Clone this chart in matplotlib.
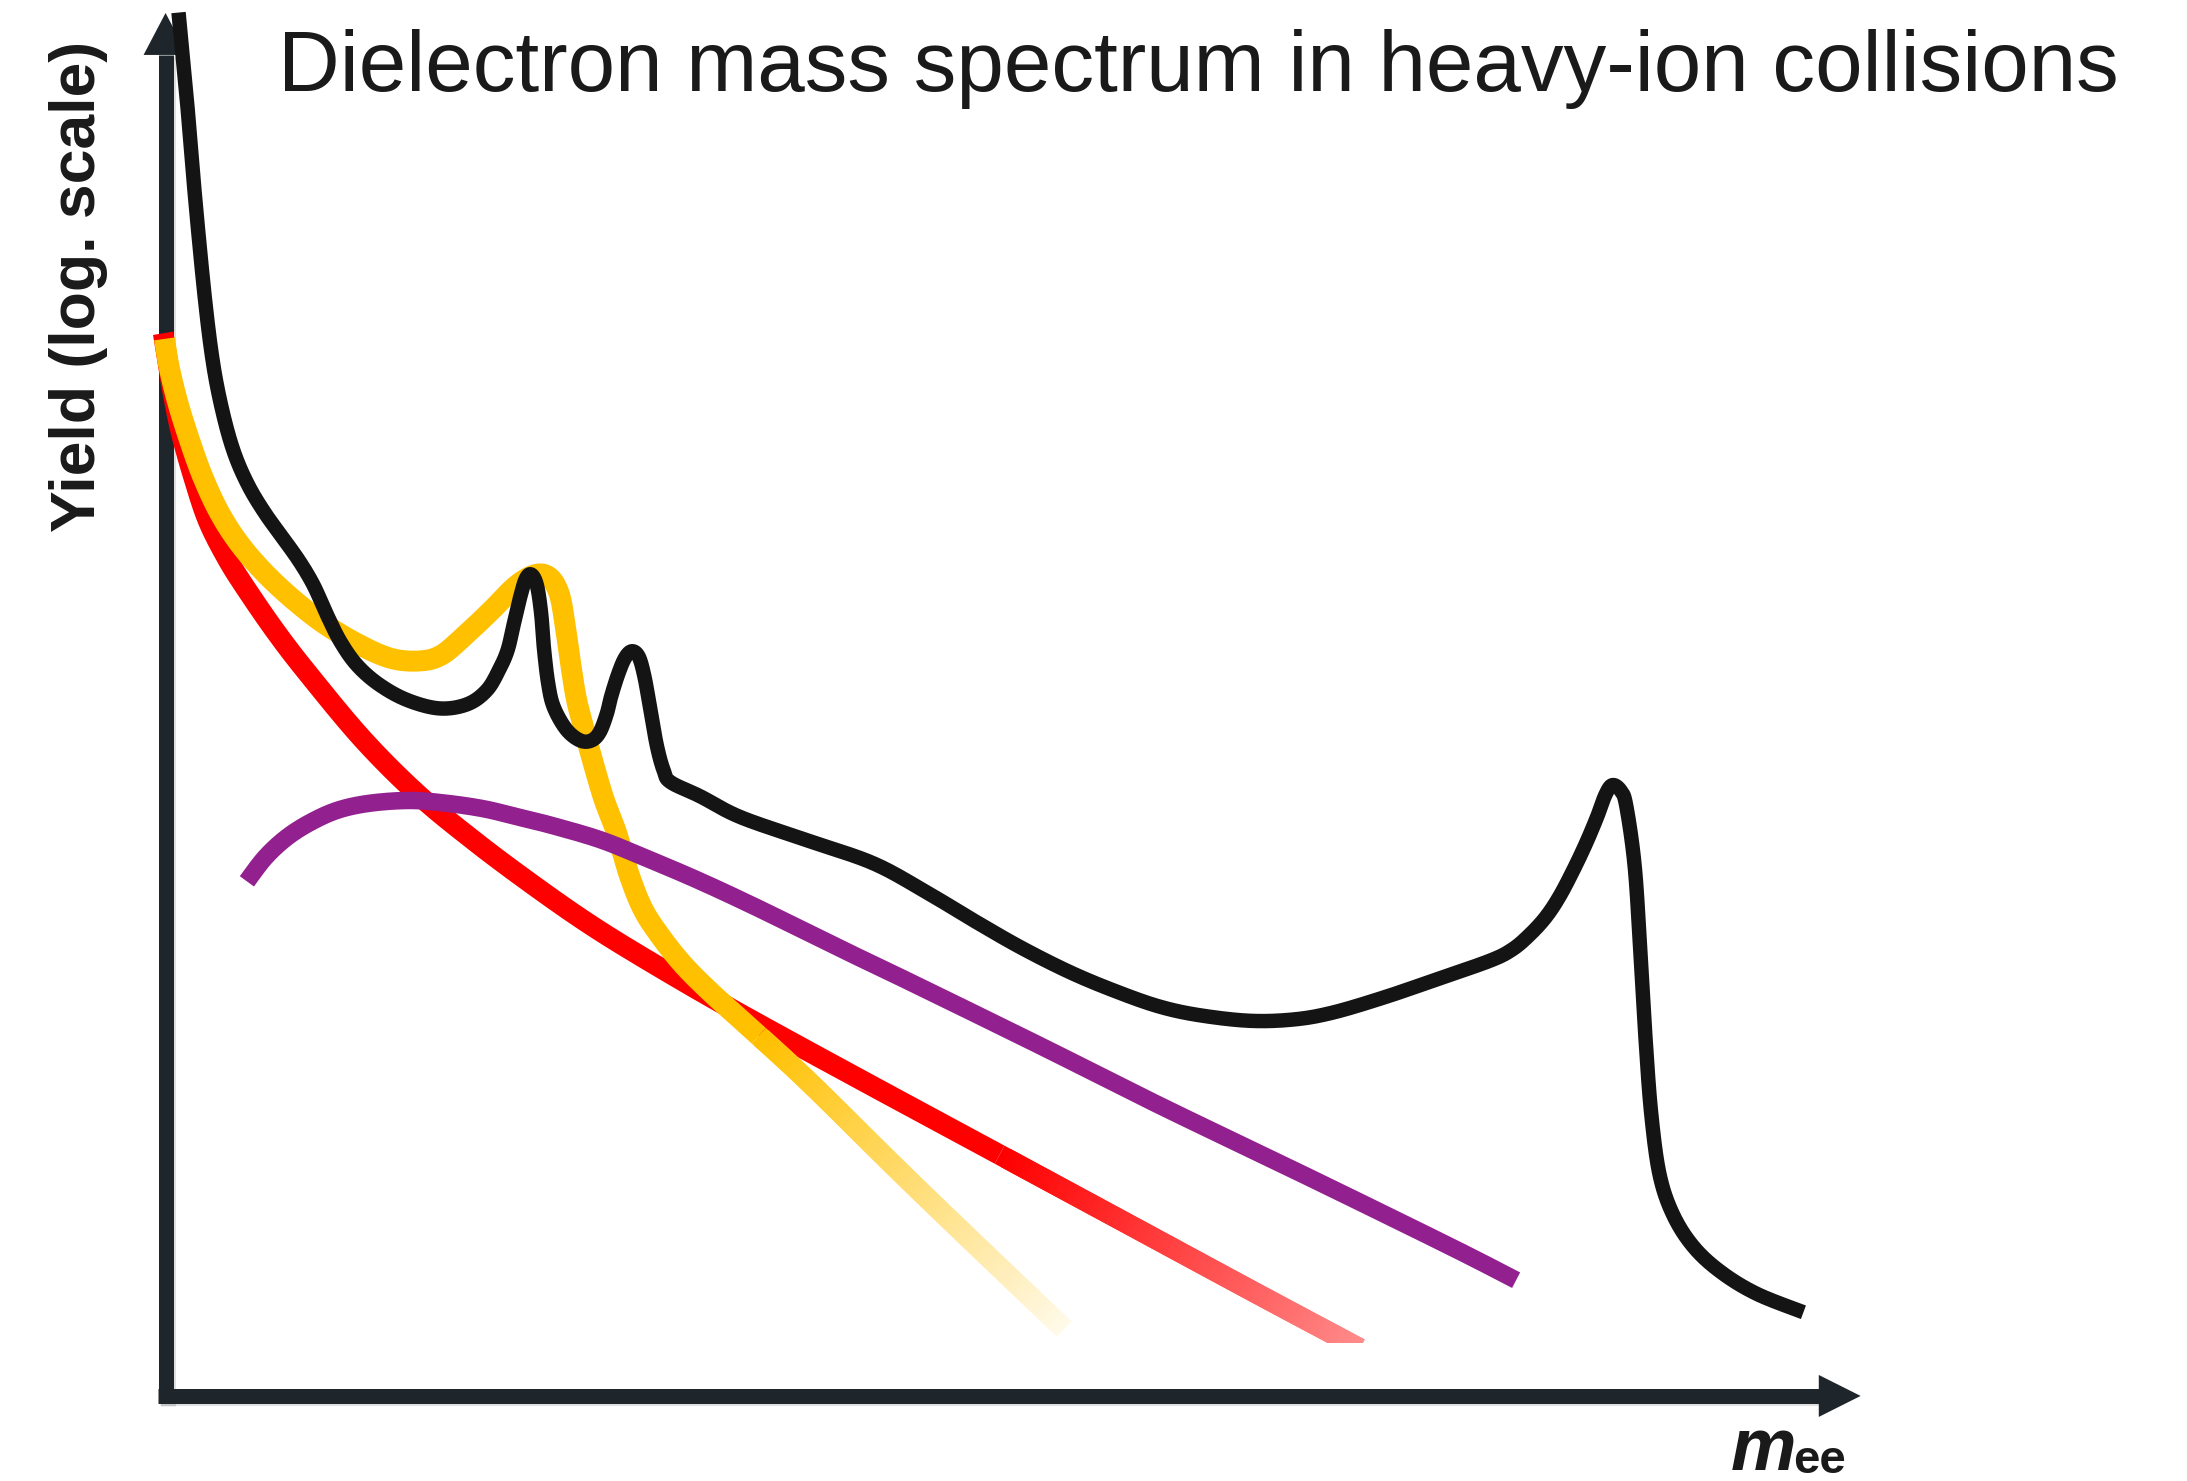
import numpy as np
import matplotlib
matplotlib.use("Agg")
import matplotlib.pyplot as plt
from matplotlib.collections import LineCollection
from matplotlib.patches import Polygon, Rectangle
import matplotlib.patheffects as pe

plt.rcParams['font.family'] = ['Liberation Sans', 'DejaVu Sans']

### Schematic curves: invariant mass (arbitrary units) vs log of yield (arbitrary units) ###

# total measured spectrum (black)
total_m = [10, 16, 22, 29, 35, 42, 50, 60, 72, 85, 97, 107, 116, 126, 138, 154, 174, 197,
           217, 231, 240, 246, 250, 255, 259, 263, 267, 270, 272, 275, 279, 288, 298, 306,
           312, 317, 320, 325, 330, 335, 340, 344, 348, 353, 358, 363, 384, 413, 462, 508,
           545, 580, 615, 651, 685, 714, 742, 778, 810, 838, 875, 910, 950, 966, 978, 990,
           1000, 1010, 1019, 1027, 1033, 1038, 1044, 1048, 1054, 1058, 1062, 1066, 1072,
           1082, 1097, 1117, 1142, 1175]
total_ly = [991, 928, 857, 785, 738, 703, 675, 652, 632, 614, 597, 580, 560, 540, 523, 509,
            498, 492, 495, 505, 520, 534, 551, 572, 585, 588, 580, 560, 535, 510, 493, 477,
            469, 469, 475, 488, 500, 516, 528, 533, 529, 515, 493, 465, 447, 439, 429, 414,
            397, 381, 361, 340, 320, 302, 288, 278, 272, 268, 269, 274, 285, 297, 311, 319,
            329, 342, 357, 376, 395, 414, 430, 437, 433, 422, 379, 319, 252, 200, 157, 128,
            105, 87, 72, 59]

# hadronic cocktail (yellow)
cocktail_m = [0, 3, 9, 17, 27, 39, 53, 70, 90, 114, 139, 162, 182, 198, 215, 234, 252, 266,
              276, 283, 287, 291, 295, 300, 307, 315, 324, 333, 343, 356, 372, 392, 413, 460,
              527, 582, 645]
cocktail_ly = [757, 738, 713, 687, 659, 633, 611, 591, 572, 553, 538, 528, 526, 530, 544, 562,
               580, 588, 586, 574, 553, 525, 500, 480, 454, 427, 403, 373, 348, 328, 308, 288,
               269, 226, 160, 107, 47]

# red curve
red_m = [-1, 2, 6, 12, 21, 31, 44, 57, 79, 102, 142, 182, 222, 262, 302, 342, 402, 482, 582,
         682, 782, 857]
red_ly = [761, 742, 718, 689, 657, 627, 601, 580, 548, 518, 470, 430, 397, 367, 339, 314, 279,
          235, 181, 127, 73, 33]

# purple curve
purple_m = [59, 72, 87, 104, 124, 147, 176, 202, 229, 254, 278, 312, 342, 382, 425, 482, 532,
            628, 714, 822, 922, 969]
purple_ly = [368, 385, 399, 410, 419, 424, 426, 424, 420, 414, 408, 398, 386, 369, 349, 321,
             297, 250, 207, 155, 106, 82]

TITLE = 'Dielectron mass spectrum in heavy-ion collisions'
YLABEL = 'Yield (log. scale)'

AXIS_COL = '#1e262c'
TEXT_COL = '#1a1a1a'
PX = 1 / 1.3948   # one output pixel in data units


def smooth(m, ly, steps=24):
    # Catmull-Rom style cubic Bezier through the given points, flattened for drawing
    P = np.column_stack([m, ly]).astype(float)
    t = np.linspace(0, 1, steps, endpoint=False)[:, None]
    out = []
    for i in range(len(P) - 1):
        p0 = P[i - 1] if i > 0 else P[i]
        p1, p2 = P[i], P[i + 1]
        p3 = P[i + 2] if i + 2 < len(P) else P[i + 1]
        c1 = p1 + (p2 - p0) / 6
        c2 = p2 - (p3 - p1) / 6
        out.append((1 - t) ** 3 * p1 + 3 * (1 - t) ** 2 * t * c1
                   + 3 * (1 - t) * t ** 2 * c2 + t ** 3 * p2)
    out.append(P[-1:])
    out = np.vstack(out)
    return out[:, 0], out[:, 1]


def draw_curve(ax, m, ly, color, lw, zorder, fade_start=None, fade_amount=0, clip=None):
    xs, ys = smooth(m, ly)
    if fade_start is None:
        k = len(xs)
    else:
        k = int((xs <= fade_start).sum())
    solid, = ax.plot(xs[:k], ys[:k], color=color, lw=lw, solid_capstyle='butt',
                     solid_joinstyle='round', zorder=zorder)
    if clip is not None:
        solid.set_clip_path(clip)
    if fade_start is None:
        return
    # remaining part blends towards white
    rgb = np.array(matplotlib.colors.to_rgb(color))
    segs, cols = [], []
    for i in range(k - 1, len(xs) - 1):
        j = min(i + 2, len(xs) - 1)
        segs.append([(xs[i], ys[i]), (xs[j], ys[j])])
        f = fade_amount * np.clip((xs[i] - fade_start) / (xs[-1] - fade_start), 0, 1)
        cols.append(rgb + (1 - rgb) * f)
    lc = LineCollection(segs, colors=cols, linewidths=lw, capstyle='butt',
                        joinstyle='round', zorder=zorder)
    ax.add_collection(lc)
    if clip is not None:
        lc.set_clip_path(clip)


fig = plt.figure(figsize=(21.87, 14.81), dpi=100)
ax = fig.add_axes([0, 0, 1, 1])
ax.set_xlim(-118, 1450)
ax.set_ylim(-62, 1000)
ax.axis('off')

# axes drawn as arrows
shadow = [pe.SimpleLineShadow(offset=(1.5, -1.5), shadow_color='k', alpha=0.12), pe.Normal()]
x0, y0 = 0.7, -1.0
ax.plot([x0, x0], [y0 - 5.4, 960.6], color=AXIS_COL, lw=10.8, solid_capstyle='butt',
        zorder=1, path_effects=shadow)
ax.plot([x0 - 5.4, 1186], [y0, y0], color=AXIS_COL, lw=10.8, solid_capstyle='butt',
        zorder=1, path_effects=shadow)
hw_y = 22 * PX
hw_x = 21 * PX
ax.add_patch(Polygon([[x0, 990.7], [x0 - hw_y, 960.6], [x0 + hw_y, 960.6]], closed=True,
                     color=AXIS_COL, lw=0, zorder=1))
ax.add_patch(Polygon([[1216, y0], [1186, y0 + hw_x], [1186, y0 - hw_x]], closed=True,
                     color=AXIS_COL, lw=0, zorder=1))

# curves
red_clip = Rectangle((-200, 37), 2000, 1200, transform=ax.transData)
draw_curve(ax, red_m, red_ly, '#ff0000', 14.8, 2, fade_start=600, fade_amount=0.55,
           clip=red_clip)
draw_curve(ax, cocktail_m, cocktail_ly, '#ffc000', 15.1, 3, fade_start=427, fade_amount=0.92)
draw_curve(ax, purple_m, purple_ly, '#92208f', 12.6, 4)
draw_curve(ax, total_m, total_ly, '#141414', 10.4, 5)

# texts
fig.text(278 / 2187, 1 - 91 / 1481, TITLE, ha='left', va='baseline', fontsize=61.5,
         color=TEXT_COL)
fig.text(79 / 2187, 1 - 286 / 1481, YLABEL, rotation=90, ha='center', va='center',
         fontsize=45, fontweight='bold', color=TEXT_COL)
fig.text(1731 / 2187, 1 - 1470 / 1481, 'm', ha='left', va='baseline', fontsize=53,
         fontweight='bold', fontstyle='italic', color=TEXT_COL)
fig.text(1793 / 2187, 1 - 1473 / 1481, 'ee', ha='left', va='baseline', fontsize=34,
         fontweight='bold', color=TEXT_COL)

fig.savefig('out.png', dpi=100, facecolor='white')
